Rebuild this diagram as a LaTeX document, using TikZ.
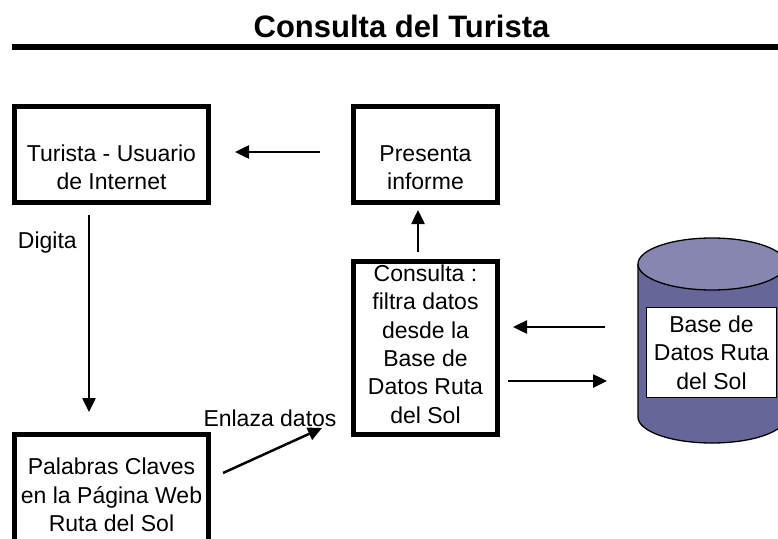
\documentclass[tikz,border=0pt]{standalone}
\usepackage{fontspec}
\setmainfont{Liberation Sans}
\usetikzlibrary{arrows.meta}
\definecolor{cuerpo}{RGB}{102,102,153}
\definecolor{tapa}{RGB}{134,134,176}
\tikzstyle{texto}=[font=\fontsize{23}{28.4}\selectfont,align=center,inner sep=0pt]
\tikzstyle{caja}=[draw=black,line width=5pt,inner sep=0pt]
\tikzstyle{flecha}=[line width=2.5pt,-{Triangle[length=14pt,width=13pt]}]

\begin{document}
\begin{tikzpicture}[x=1pt,y=-1pt]
\useasboundingbox (0,0) rectangle (778,538);
\clip (0,0) rectangle (778,538);
\node[font=\fontsize{31}{37}\selectfont\bfseries,anchor=base] (titulo) at (401.5,37) {Consulta del Turista};
\draw[line width=6pt] (12,47) -- (778,47);

\node[caja,minimum width=194pt,minimum height=96pt] (turista) at (111.5,154.5) {};
\node[texto] (tturista) at ([yshift=-13pt]turista.center) {Turista - Usuario\\de Internet};
\node[caja,minimum width=144pt,minimum height=96pt] (presenta) at (425.5,154.5) {};
\node[texto] (tpresenta) at ([yshift=-13pt]presenta.center) {Presenta\\informe};
\node[caja,minimum width=144pt,minimum height=173pt] (consulta) at (425.5,348) {};
\node[texto] (tconsulta) at ([yshift=4pt]consulta.center) {Consulta :\\filtra datos\\desde la\\Base de\\Datos Ruta\\del Sol};
\node[caja,minimum width=194pt,minimum height=139pt] (palabras) at (111.5,504) {};
\node[texto] (tpalabras) at ([yshift=9pt]palabras.center) {Palabras Claves\\en la Página Web\\Ruta del Sol};

\filldraw[fill=cuerpo,line width=1.3pt] (638,264) -- (638,417) arc[start angle=180,end angle=360,x radius=74pt,y radius=26pt] -- (786,264);
\filldraw[fill=tapa,line width=1.3pt] (712,264) ellipse [x radius=74pt,y radius=26pt];
\node[texto,draw=black,fill=white,line width=1pt,minimum width=130pt,minimum height=90pt] (base) at (711.5,352.5) {Base de\\Datos Ruta\\del Sol};

\draw[flecha,shorten <=31pt,shorten >=24pt] ([yshift=2.5pt]presenta.west) -- ([yshift=2.5pt]turista.east);
\draw[flecha,shorten <=10pt,shorten >=20pt] ([xshift=-22.5pt]turista.south) -- node[texto,pos=0.167,left=11pt] (digita) {Digita} ([xshift=-22.5pt]palabras.north);
\draw[flecha] ([xshift=12pt,yshift=31pt]palabras.east) -- ([xshift=-29pt,yshift=-80pt]consulta.west) node[texto,pos=1,xshift=-52pt,yshift=10pt] (enlaza) {Enlaza datos};
\draw[flecha,shorten <=7pt,shorten >=5pt] ([xshift=-7.5pt]consulta.north) -- ([xshift=-7.5pt]presenta.south);
\coordinate (c1) at ([yshift=21pt]consulta.east);
\coordinate (c2) at ([yshift=-33pt]consulta.east);
\draw[flecha,shorten <=41pt,shorten >=13pt] (base.west |- c1) -- (c1);
\draw[flecha,shorten <=8pt,shorten >=39pt] (c2) -- (base.west |- c2);
\end{tikzpicture}
\end{document}
